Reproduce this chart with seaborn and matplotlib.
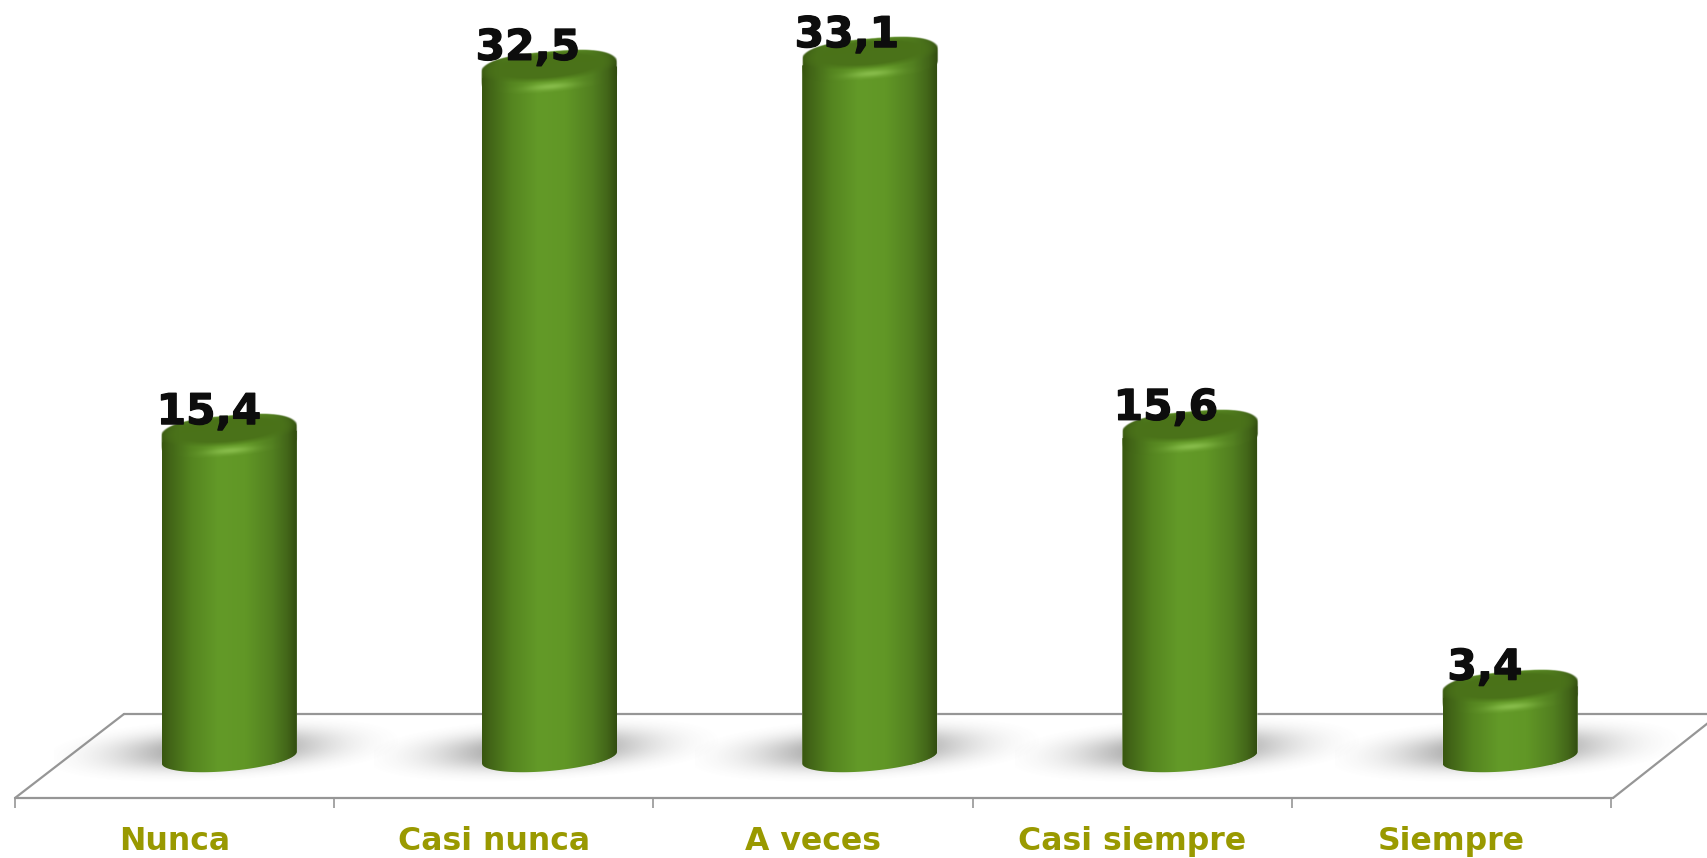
import matplotlib
matplotlib.use('Agg')
import matplotlib.pyplot as plt
import matplotlib.patheffects as pe
import numpy as np
import seaborn as sns
from matplotlib.colors import LinearSegmentedColormap, to_rgb
from matplotlib.path import Path

categories = ['Nunca', 'Casi nunca', 'A veces', 'Casi siempre', 'Siempre']
values = [15.4, 32.5, 33.1, 15.6, 3.4]
value_labels = ['15,4', '32,5', '33,1', '15,6', '3,4']

W, H = 1708, 858
FLOOR = 798          # pixel height of the front floor edge
ZERO_Y = 764.6       # pixel height of value 0
BASE_Y = 757.5       # pixel height of the bar base ellipse
PX_PER_VALUE = 21.3
FIRST_BAR = 229.3    # pixel centre of the first bar
STEP = 320.2         # pixels between bars
TICK_LEFT = 15       # the floor ticks have a slightly smaller pitch than the bars
TICK_STEP = 319.2
LABEL_LEFT = 209     # value labels follow the tick pitch too
TILT = np.radians(5)
A = 67.5             # half width of a bar in pixels

sns.set_theme(style='white')
plt.rcParams['font.family'] = 'DejaVu Sans'

fig = plt.figure(figsize=(W / 100, H / 100), dpi=100)
ax = fig.add_axes([0, 1 - FLOOR / H, 1, FLOOR / H])
ax.patch.set_visible(False)

sns.barplot(x=categories, y=values, width=2 * A / STEP, color='#5f9426', ax=ax, zorder=3)


def to_x(px):
    return (np.asarray(px) - FIRST_BAR) / STEP


def to_y(py):
    return (ZERO_Y - np.asarray(py)) / PX_PER_VALUE


def set_limits():
    ax.set_xlim(to_x(0), to_x(W))
    ax.set_ylim(to_y(FLOOR), to_y(0))


set_limits()

# floor outline
floor_lines = [((TICK_LEFT, 1613), (FLOOR, FLOOR)),
               ((TICK_LEFT, 124), (FLOOR, 714)),
               ((124, 1708), (714, 714)),
               ((1613, 1708), (FLOOR, 723))]
for xs, ys in floor_lines:
    ax.plot(to_x(xs), to_y(ys), color='#969696', lw=1.6,
            clip_on=False, zorder=1, solid_capstyle='round')

# axis
sns.despine(ax=ax, left=True, bottom=True, top=True, right=True)
ax.set_yticks([])
ax.set_xticks(to_x(TICK_LEFT + TICK_STEP * (np.arange(5) + 0.5)), categories)
ax.set_xticks(to_x(TICK_LEFT + TICK_STEP * np.arange(6)), minor=True)
ax.tick_params(axis='x', which='minor', length=7.5, width=1.2, color='#969696', bottom=True)
ax.tick_params(axis='x', which='major', length=0, pad=20, labelsize=22.7, labelcolor='#999900')
for lab in ax.get_xticklabels():
    lab.set_fontweight('bold')

body_cmap = LinearSegmentedColormap.from_list('body', [
    (0.00, '#38560f'), (0.06, '#426517'), (0.22, '#558520'), (0.42, '#639a28'),
    (0.62, '#619726'), (0.82, '#527f20'), (0.93, '#436619'), (1.00, '#324d10')])


def add_shadow(cx_px):
    xs = np.arange(cx_px - 175, cx_px + 175)
    ys = np.arange(717, 785)
    xx, yy = np.meshgrid(xs, ys)
    du = (xx - cx_px + 6) / 135.0
    dv = (yy - 749 + (xx - cx_px) * 0.05) / 24.0
    dist = np.abs(du) ** 2.2 + np.abs(dv) ** 2.2
    alpha = np.clip(0.72 * np.exp(-dist * 1.9) - 0.02, 0, 1)
    rgba = np.zeros(xx.shape + (4,))
    rgba[..., :3] = 0.42
    rgba[..., 3] = alpha
    ax.imshow(rgba, extent=(to_x(xs[0]), to_x(xs[-1]), to_y(ys[-1]), to_y(ys[0])),
              origin='upper', aspect='auto', zorder=1.5, clip_on=False, interpolation='bilinear')


def add_cap(cx_px, cy_px):
    b = 21.0
    xs = np.arange(cx_px - 76, cx_px + 76, 0.5)
    ys = np.arange(cy_px - 34, cy_px + 34, 0.5)
    xx, yy = np.meshgrid(xs, ys)
    dx = xx - cx_px
    dy = yy - cy_px
    u = (dx * np.cos(TILT) - dy * np.sin(TILT)) / (A + 3)
    v = (dx * np.sin(TILT) + dy * np.cos(TILT)) / b
    rho = (np.abs(u) ** 2.8 + np.abs(v) ** 2.8) ** (1 / 2.8)
    rim = body_cmap(np.clip((dx / A + 1) / 2, 0, 1))[..., :3]
    inner = np.array(to_rgb('#4a7219'))
    glow = np.array(to_rgb('#8fc452'))
    # dark inner top, moved up from the centre of the cap
    rho_in = np.sqrt((u / 0.9) ** 2 + ((v + 0.3) / 0.68) ** 2)
    k = np.clip((rho_in - 0.78) / 0.35, 0, 1)[..., None]
    rgb = inner * (1 - k) + rim * k
    g = np.exp(-(u / 0.33) ** 2 - ((v - 0.68) / 0.17) ** 2)[..., None] * 0.8
    rgb = rgb * (1 - g) + glow * g
    alpha = np.clip((1 - rho) * 30, 0, 1) * np.clip((A - np.abs(dx)) * 2 + 0.5, 0, 1)
    rgba = np.dstack([rgb, alpha])
    ax.imshow(rgba, extent=(to_x(xs[0]), to_x(xs[-1]), to_y(ys[-1]), to_y(ys[0])),
              origin='upper', aspect='auto', zorder=4, clip_on=False, interpolation='bilinear')


for i, (bar, lab) in enumerate(zip(list(ax.containers[0]), value_labels)):
    x0, w, h = bar.get_x(), bar.get_width(), bar.get_height()
    cx_px = FIRST_BAR + (x0 + w / 2) * STEP
    top_px = ZERO_Y - h * PX_PER_VALUE
    add_shadow(cx_px)

    # body outline: front arc of the base, straight sides, tilted line at the cap centre
    t = np.linspace(np.pi, 0, 80)
    ex = cx_px + A * np.cos(t)
    ey = BASE_Y + 13.5 * np.sin(t) - A * np.cos(t) * np.sin(TILT)
    rise = A * np.sin(TILT)
    px = np.r_[ex, cx_px + A, cx_px - A, ex[0]]
    py = np.r_[ey, top_px - rise, top_px + rise, ey[0]]
    body = Path(np.column_stack([to_x(px), to_y(py)]))
    bar.set_clip_path(body, ax.transData)

    im = ax.imshow(np.linspace(0, 1, 256)[None, :], cmap=body_cmap,
                   extent=(x0, x0 + w, to_y(ZERO_Y + 20), h + 2),
                   aspect='auto', zorder=3.5, interpolation='bilinear')
    im.set_clip_path(body, ax.transData)

    add_cap(cx_px, top_px)
    ax.text(to_x(LABEL_LEFT + 319 * i), h + 1.15, lab, ha='center', va='center', fontsize=30.5,
            fontweight='bold', color='#0d0d0d', zorder=6,
            path_effects=[pe.withStroke(linewidth=0.9, foreground='#0d0d0d')])

set_limits()

fig.savefig('out.png', dpi=100, facecolor='white')
